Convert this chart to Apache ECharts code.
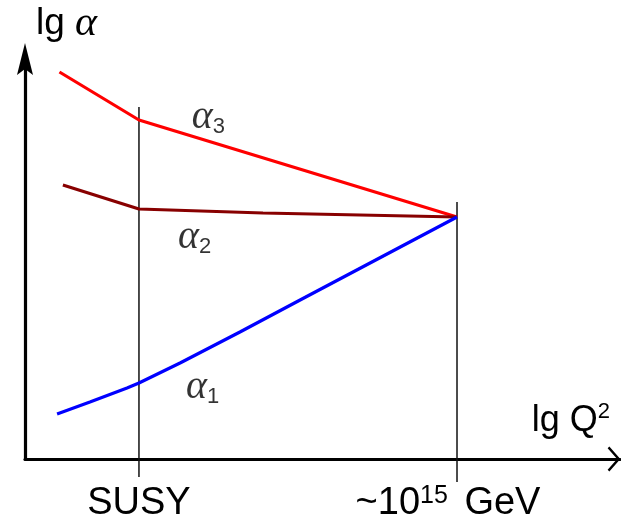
<!DOCTYPE html>
<html><head><meta charset="utf-8">
<script src="https://cdn.jsdelivr.net/npm/echarts@6/dist/echarts.min.js"></script>
<style>html,body{margin:0;padding:0;background:#fff}#c{width:621px;height:526px}</style>
</head><body><div id="c"></div>
<script>
// x: lg of energy scale (SUSY ~ 3, GUT ~ 15); y: lg alpha in arbitrary units
const alpha3X = [0, 3, 15];
const alpha3Y = [96.75, 84.75, 60.5];
const alpha2X = [0.13, 3, 7.68, 15];
const alpha2Y = [68.5, 62.5, 61.5, 60.5];
const alpha1X = [-0.09, 1.15, 2.55, 3, 4.55, 6.81, 9.08, 15];
const alpha1Y = [11.25, 14.25, 17.75, 19, 24, 31.75, 39.75, 60.5];
const markerX = [3, 15];
const markerTop = [88, 64.25];
const markerBottom = [-4.5, -5.75];
const tickValues = [3, 15];
const tickLabels = ['SUSY', '~10|15| GeV'];
const curveIndex = ['3', '2', '1'];
const labelX = [5.62, 5.1, 5.4];
const labelY = [85.5, 55.5, 18];
const curveColors = ['#ff0000', '#880000', '#0000ff'];

const zip = (xs, ys) => xs.map((x, i) => [x, ys[i]]);
const chart = echarts.init(document.getElementById('c'));

const series = [];
markerX.forEach((x, i) => {
  series.push({
    type: 'line', symbol: 'none', clip: false, silent: true, z: 1,
    data: [[x, markerTop[i]], [x, markerBottom[i]]],
    lineStyle: { color: '#111', width: 1.5 }
  });
});
[[alpha3X, alpha3Y], [alpha2X, alpha2Y], [alpha1X, alpha1Y]].forEach((d, i) => {
  series.push({
    type: 'line', symbol: 'none', clip: false, z: 3,
    data: zip(d[0], d[1]),
    lineStyle: { color: curveColors[i], width: 3.2 }
  });
});
series.push({
  type: 'scatter', symbolSize: 0, z: 4,
  data: labelX.map((x, i) => [x, labelY[i], curveIndex[i]]),
  label: {
    show: true, position: 'inside',
    formatter: p => '{a|α}{s|' + p.data[2] + '}',
    rich: {
      a: { fontFamily: 'Liberation Serif', fontStyle: 'italic', fontSize: 40, color: '#000', lineHeight: 42 },
      s: { fontFamily: 'Liberation Sans', fontSize: 22, color: '#000', verticalAlign: 'bottom', lineHeight: 42 }
    }
  }
});

chart.setOption({
  animation: false,
  grid: { left: 25, right: 1, top: 59, bottom: 67 },
  xAxis: {
    type: 'value', min: -1.3, max: 21.15,
    splitLine: { show: false },
    axisTick: { show: false },
    axisLine: {
      show: true, onZero: false,
      lineStyle: { color: '#000', width: 3.2 },
      symbol: ['none', 'path://M12.5 0 L25 11 L23.3 12.7 L12.5 3.2 L1.7 12.7 L0 11 Z'],
      symbolSize: [25, 12.7],
      symbolOffset: [0, -6]
    },
    axisLabel: {
      show: true, customValues: tickValues, margin: 25,
      formatter: v => {
        const t = tickLabels[tickValues.indexOf(v)];
        if (t.indexOf('|') < 0) return '{n|' + t + '}';
        const p = t.split('|');
        return '{n|' + p[0] + '}{sup|' + p[1] + '}{e|' + p[2] + '}';
      },
      rich: {
        n: { fontFamily: 'Liberation Sans', fontSize: 38, color: '#000', lineHeight: 40 },
        e: { fontFamily: 'Liberation Sans', fontSize: 38, color: '#000', lineHeight: 40, padding: [0, 18, 0, 0] },
        sup: { fontFamily: 'Liberation Sans', fontSize: 25, color: '#000', verticalAlign: 'top', lineHeight: 40, padding: [0, 6, 0, 0] }
      }
    },
    name: '{n|lg Q}{sup|2}',
    nameLocation: 'end', nameGap: -10,
    nameTextStyle: {
      align: 'right', verticalAlign: 'bottom', padding: [0, 0, 18, 0],
      rich: {
        n: { fontFamily: 'Liberation Sans', fontSize: 36, color: '#000', lineHeight: 40 },
        sup: { fontFamily: 'Liberation Sans', fontSize: 22, color: '#000', verticalAlign: 'top', lineHeight: 40 }
      }
    }
  },
  yAxis: {
    type: 'value', min: 0, max: 100,
    splitLine: { show: false },
    axisTick: { show: false },
    axisLabel: { show: false },
    axisLine: {
      show: true, onZero: false,
      lineStyle: { color: '#000', width: 3.2 },
      symbol: ['none', 'path://M8 0 L16 32 L8 26 L0 32 Z'],
      symbolSize: [16, 32]
    },
    name: '{n|lg }{a|α}',
    nameLocation: 'end', nameGap: 15,
    nameTextStyle: {
      align: 'left', verticalAlign: 'bottom', padding: [0, 0, 0, 11],
      rich: {
        n: { fontFamily: 'Liberation Sans', fontSize: 37, color: '#000', lineHeight: 40 },
        a: { fontFamily: 'Liberation Serif', fontStyle: 'italic', fontSize: 42, color: '#000', lineHeight: 40 }
      }
    }
  },
  series
});
</script></body></html>
